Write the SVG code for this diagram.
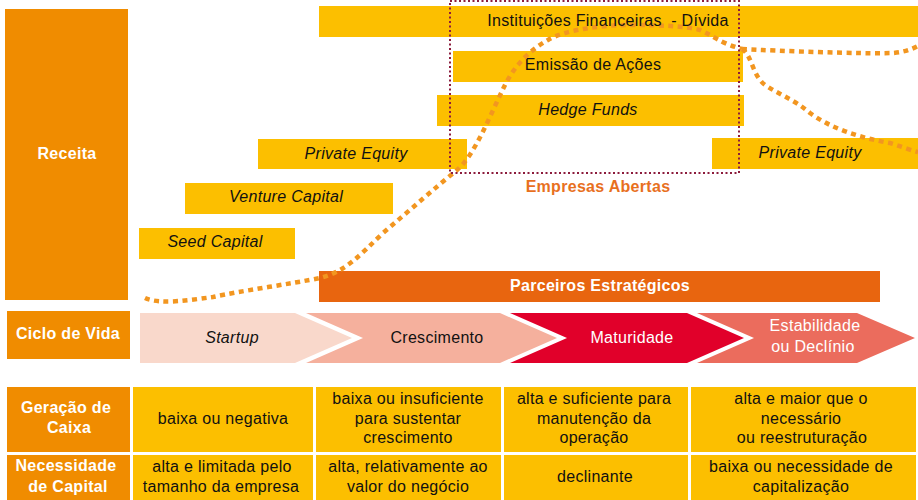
<svg xmlns="http://www.w3.org/2000/svg" width="918" height="500" viewBox="0 0 918 500">
<style>
.bar{fill:#FCBF00}
.lbl{fill:#F08C00}
.t{font-family:"Liberation Sans",Arial,sans-serif;font-size:16px;fill:#111;text-anchor:middle;letter-spacing:0.3px}
.it{font-style:italic}
.wb{fill:#fff;font-weight:bold}
.w{fill:#fff}
.curve{fill:none;stroke:#F29620;stroke-width:4.5;stroke-dasharray:5 4.5}
.frame{fill:none;stroke:#8C1C3C;stroke-width:2;stroke-dasharray:2 2.5}
</style>
<rect width="918" height="500" fill="#fff"/>

<g id="receita"><rect class="lbl" x="5" y="9" width="123" height="291"/><text class="t wb" x="67" y="159">Receita</text></g>

<g id="instituicoes"><rect class="bar" x="319" y="6" width="599" height="31"/></g>
<g id="emissao"><rect class="bar" x="453" y="51" width="290" height="31"/><text class="t" x="593" y="70">Emissão de Ações</text></g>
<g id="hedge"><rect class="bar" x="437" y="95" width="307" height="31"/><text class="t it" x="588" y="115">Hedge Funds</text></g>
<g id="pe-left"><rect class="bar" x="258" y="139" width="209" height="30"/><text class="t it" x="356" y="159">Private Equity</text></g>
<g id="pe-right"><rect class="bar" x="712" y="138" width="206" height="31"/><text class="t it" x="810" y="158">Private Equity</text></g>
<g id="venture"><rect class="bar" x="185" y="183" width="208" height="31"/><text class="t it" x="286" y="202">Venture Capital</text></g>
<g id="seed"><rect class="bar" x="139" y="228" width="156" height="31"/><text class="t it" x="215" y="247">Seed Capital</text></g>
<g id="parceiros"><rect x="319" y="271" width="561" height="31" fill="#E8650F"/><text class="t wb" x="600" y="291">Parceiros Estratégicos</text></g>

<g id="connectors">
<path class="curve" d="M145,298 C160,305 190,300 213,297 C240,291 290,284 320,278 C345,272 360,255 383,233 C410,210 435,188 457,170 C475,155 490,115 505,85 C515,65 530,50 548,40 C565,30 600,25 630,25 C660,25 685,26 700,30 C712,35 720,43 742,49"/>
<path class="curve" d="M742,49 C780,51 860,54 893,53 C905,52 912,49 918,46"/>
<path class="curve" d="M742,49 C752,55 752,75 765,85 C780,95 795,100 810,113 C830,128 860,138 890,143 C900,146 910,150 918,152"/>
</g>

<g id="instituicoes-label"><text class="t" x="608" y="26">Instituições Financeiras&#160; - Dívida</text></g>

<g id="empresas-abertas"><rect class="frame" x="450" y="1" width="289" height="172"/><text class="t" x="598" y="192" style="fill:#E8701E;font-weight:bold">Empresas Abertas</text></g>

<g id="ciclo"><rect class="lbl" x="7" y="311" width="123" height="48"/><text class="t wb" x="68" y="339">Ciclo de Vida</text></g>
<g id="startup"><path d="M140,313 H295 L352,338 L295,363 H140 Z" fill="#F9D8CB"/><text class="t it" x="232" y="343">Startup</text></g>
<g id="crescimento"><path d="M306,313 H500 L557,338 L500,363 H306 L363,338 Z" fill="#F5B09D"/><text class="t" x="437" y="343">Crescimento</text></g>
<g id="maturidade"><path d="M510,313 H687 L744,338 L687,363 H510 L567,338 Z" fill="#E1002A"/><text class="t w" x="632" y="343">Maturidade</text></g>
<g id="estabilidade"><path d="M697,313 H857 L915,338 L857,363 H697 L754,338 Z" fill="#EB6C5D"/><text class="t w" x="815" y="331">Estabilidade</text><text class="t w" x="813" y="352">ou Declínio</text></g>

<g id="geracao-label"><rect class="lbl" x="7" y="387" width="123" height="65"/><text class="t wb" x="66" y="413">Geração de</text><text class="t wb" x="69" y="433">Caixa</text></g>
<g id="geracao-1"><rect class="bar" x="133" y="387" width="180" height="65"/><text class="t" x="223" y="424">baixa ou negativa</text></g>
<g id="geracao-2"><rect class="bar" x="316" y="387" width="185" height="65"/><text class="t" x="408" y="404">baixa ou insuficiente</text><text class="t" x="408" y="424">para sustentar</text><text class="t" x="408" y="443">crescimento</text></g>
<g id="geracao-3"><rect class="bar" x="504" y="387" width="184" height="65"/><text class="t" x="594" y="404">alta e suficiente para</text><text class="t" x="594" y="424">manutenção da</text><text class="t" x="594" y="443">operação</text></g>
<g id="geracao-4"><rect class="bar" x="691" y="387" width="225" height="65"/><text class="t" x="801" y="404">alta e maior que o</text><text class="t" x="801" y="424">necessário</text><text class="t" x="802" y="443">ou reestruturação</text></g>

<g id="necessidade-label"><rect class="lbl" x="7" y="455" width="123" height="45"/><text class="t wb" x="66" y="471">Necessidade</text><text class="t wb" x="68" y="492">de Capital</text></g>
<g id="necessidade-1"><rect class="bar" x="133" y="455" width="180" height="45"/><text class="t" x="222" y="472">alta e limitada pelo</text><text class="t" x="221" y="492">tamanho da empresa</text></g>
<g id="necessidade-2"><rect class="bar" x="316" y="455" width="185" height="45"/><text class="t" x="408" y="472">alta, relativamente ao</text><text class="t" x="408" y="492">valor do negócio</text></g>
<g id="necessidade-3"><rect class="bar" x="504" y="455" width="184" height="45"/><text class="t" x="595" y="482">declinante</text></g>
<g id="necessidade-4"><rect class="bar" x="691" y="455" width="225" height="45"/><text class="t" x="801" y="472">baixa ou necessidade de</text><text class="t" x="801" y="492">capitalização</text></g>
</svg>
